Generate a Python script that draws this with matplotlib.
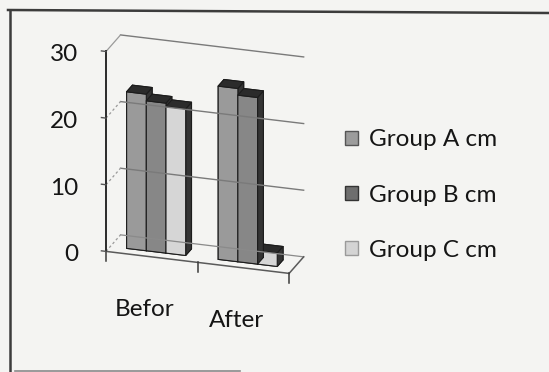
import matplotlib
matplotlib.use("Agg")
import matplotlib.pyplot as plt
from matplotlib.lines import Line2D
from matplotlib.patches import Patch
import numpy as np

# ---- data -------------------------------------------------------------
categories = ["Befor", "After"]
series_names = ["Group A cm", "Group B cm", "Group C cm"]
group_a = [23.5, 26.0]
group_b = [22.5, 25.0]
group_c = [22.0, 2.0]
z_ticks = [0, 10, 20, 30]

# ---- styling ----------------------------------------------------------
front_colors = ["#9a9a9a", "#878787", "#d6d6d6"]
top_color = "#2b2b2b"
side_color = "#343434"
legend_face = ["#9c9c9c", "#6e6e6e", "#d4d4d4"]
legend_edge = ["#555555", "#333333", "#9a9a9a"]
bg = "#f4f4f2"
ink = "#151515"

plt.rcParams["font.family"] = ["Lato", "DejaVu Sans"]

W, H, DPI = 549, 372, 100
fig = plt.figure(figsize=(W / DPI, H / DPI), dpi=DPI)
fig.patch.set_facecolor(bg)

S = 284
ax = fig.add_axes([59 / W, 72 / H, S / W, S / H], projection="3d",
                  computed_zorder=False)
ax.patch.set_alpha(0)
ax.set_proj_type("ortho")
ax.view_init(elev=21.7, azim=-72)
ax.set_box_aspect((192.4, 47, 215), zoom=1.0)

n = len(categories)
x_lo, x_hi = -0.5, n - 0.5
z_top = z_ticks[-1]
ax.set_xlim(x_lo, x_hi)
ax.set_ylim(0, 1)
ax.set_zlim(0, z_top)
ax.set_axis_off()
# the walls, ticks and labels are drawn by hand below
for axis in (ax.xaxis, ax.yaxis, ax.zaxis):
    axis.set_visible(False)


def label_at(x, y, z, s, **kw):
    """Place a flat text label at the screen position of a 3D data point."""
    p = ax.get_proj() @ np.array([x, y, z, 1.0])
    ax.text2D(p[0] / p[3], p[1] / p[3], s, transform=ax.transData, **kw)


# ---- walls, floor and gridlines --------------------------------------
grid_kw = dict(color="#7a7a7a", lw=1.0)
for z in z_ticks[1:]:
    ax.plot([x_lo, x_hi], [1, 1], [z, z], **grid_kw)                 # back wall
    ax.plot([x_lo, x_lo], [0, 1], [z, z], color="#9a9a9a", lw=0.9,
            linestyle=(0, (2, 2)) if z != z_top else "-")             # side wall
ax.plot([x_lo, x_hi], [1, 1], [0, 0], color="#8a8a8a", lw=0.9)        # floor back
ax.plot([x_lo, x_lo], [0, 1], [0, 0], color="#9a9a9a", lw=0.9,
        linestyle=(0, (2, 2)))                                        # floor left
ax.plot([x_lo, x_hi], [0, 0], [0, 0], color="#5a5a5a", lw=1.1)        # floor front
ax.plot([x_hi, x_hi], [0, 1], [0, 0], color="#5a5a5a", lw=1.1)        # floor right

# category separators below the floor
for b in np.arange(n + 1) - 0.5:
    ax.plot([b, b], [0, 0], [0, -1.5], color="#3a3a3a", lw=1.1)

# ---- bars -------------------------------------------------------------
values = [group_a, group_b, group_c]
bar_w = 0.215
offsets = (np.arange(len(values)) - 1) * bar_w
xs, heights, face_cols = [], [], []
for s, vals in enumerate(values):
    for i, v in enumerate(vals):
        xs.append(i + offsets[s] - bar_w / 2)
        heights.append(v)
        # faces: bottom, top, front, back, left, right
        face_cols += [side_color, top_color, front_colors[s],
                      front_colors[s], side_color, side_color]
ax.bar3d(xs, [0.3] * len(xs), [0] * len(xs), bar_w, 0.4, heights,
         color=face_cols, shade=False, edgecolor="#1c1c1c", linewidth=0.8)

# ---- value axis -------------------------------------------------------
ax.plot([x_lo, x_lo], [0, 0], [0, z_top], color="#2a2a2a", lw=1.4)
for z in z_ticks:
    ax.plot([x_lo - 0.05, x_lo], [0, 0], [z, z], color="#555555", lw=1.0)
    label_at(x_lo - 0.3, 0, z - 1.0, str(z), ha="right", va="center",
             fontsize=17.5, color=ink)

for i, cat in enumerate(categories):
    label_at(i - 0.08, 0, -8, cat, ha="center", va="center",
             fontsize=17.5, color=ink)

# ---- legend -----------------------------------------------------------
handles = [Patch(facecolor=legend_face[k], edgecolor=legend_edge[k], lw=1.0)
           for k in range(len(series_names))]
fig.legend(handles, series_names, loc="center left",
           bbox_to_anchor=(345 / W, 1 - 195 / H), frameon=False,
           prop={"family": "Lato", "size": 17.5}, handlelength=0.55,
           handleheight=0.55, handletextpad=0.45, labelspacing=1.4,
           borderpad=0, borderaxespad=0, labelcolor=ink)

# ---- chart border -----------------------------------------------------
fig.add_artist(Line2D([8 / W, 1], [1 - 10 / H, 1 - 13 / H],
                      transform=fig.transFigure, color="#3c3c3c", lw=1.8))
fig.add_artist(Line2D([10 / W, 10 / W], [1 - 10 / H, 0],
                      transform=fig.transFigure, color="#3c3c3c", lw=1.8))
fig.add_artist(Line2D([15 / W, 240 / W], [1 - 370.5 / H, 1 - 370.5 / H],
                      transform=fig.transFigure, color="#8a8a8a", lw=1.2))

fig.savefig("out.png", dpi=DPI, facecolor=bg)
